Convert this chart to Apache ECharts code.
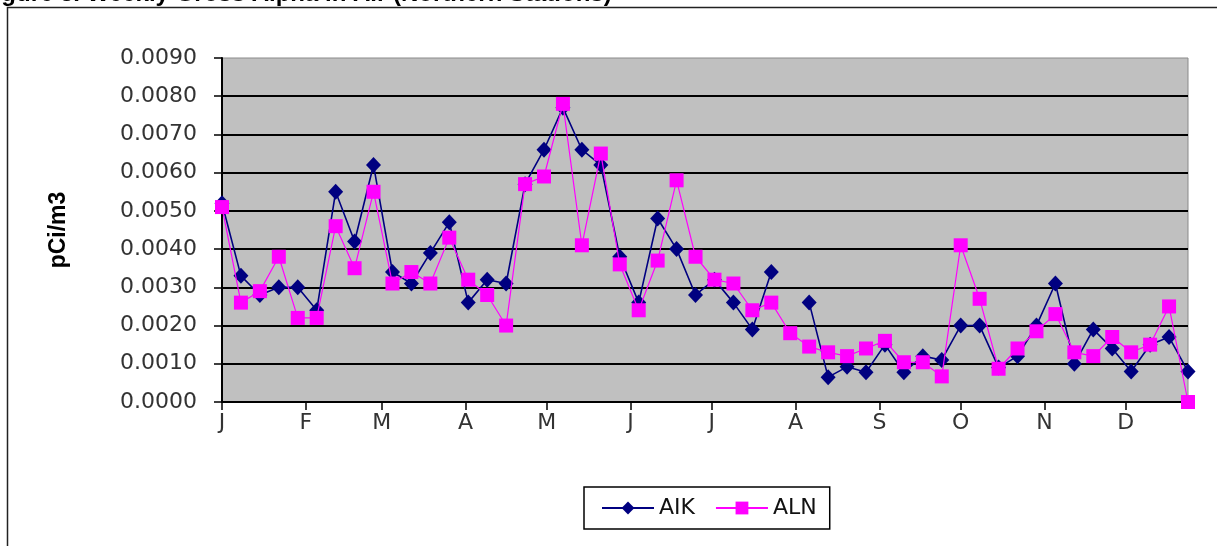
<!DOCTYPE html>
<html>
<head>
<meta charset="utf-8">
<script src="https://cdn.jsdelivr.net/npm/echarts@6/dist/echarts.min.js"></script>
<style>
html,body{margin:0;padding:0;background:#fff;}
#chart{width:1217px;height:546px;}
</style>
</head>
<body>
<div id="chart"></div>
<script>
// Weekly sample dates (one year)
const sampleDates = [
  '2007-01-01','2007-01-08','2007-01-15','2007-01-22','2007-01-29',
  '2007-02-05','2007-02-12','2007-02-19','2007-02-26',
  '2007-03-05','2007-03-12','2007-03-19','2007-03-26',
  '2007-04-02','2007-04-09','2007-04-16','2007-04-23','2007-04-30',
  '2007-05-07','2007-05-14','2007-05-21','2007-05-28',
  '2007-06-04','2007-06-11','2007-06-18','2007-06-25',
  '2007-07-02','2007-07-09','2007-07-16','2007-07-23','2007-07-30',
  '2007-08-06','2007-08-13','2007-08-20','2007-08-27',
  '2007-09-03','2007-09-10','2007-09-17','2007-09-24',
  '2007-10-01','2007-10-08','2007-10-15','2007-10-22','2007-10-29',
  '2007-11-05','2007-11-12','2007-11-19','2007-11-26',
  '2007-12-03','2007-12-10','2007-12-17','2007-12-24'
];
const aikValues = [
  0.0052,0.0033,0.0028,0.0030,0.0030,0.0024,0.0055,0.0042,0.0062,0.0034,
  0.0031,0.0039,0.0047,0.0026,0.0032,0.0031,0.0057,0.0066,0.0077,0.0066,
  0.0062,0.0038,0.0026,0.0048,0.0040,0.0028,0.0032,0.0026,0.0019,0.0034,
  null,0.0026,0.00065,0.00092,0.00078,0.0015,0.00078,0.0012,0.0011,0.0020,
  0.0020,0.0009,0.0012,0.0020,0.0031,0.0010,0.0019,0.0014,0.0008,0.0015,
  0.0017,0.0008
];
const alnValues = [
  0.0051,0.0026,0.0029,0.0038,0.0022,0.0022,0.0046,0.0035,0.0055,0.0031,
  0.0034,0.0031,0.0043,0.0032,0.0028,0.0020,0.0057,0.0059,0.0078,0.0041,
  0.0065,0.0036,0.0024,0.0037,0.0058,0.0038,0.0032,0.0031,0.0024,0.0026,
  0.0018,0.00145,0.0013,0.0012,0.0014,0.0016,0.00104,0.00104,0.00067,0.0041,
  0.0027,0.00087,0.0014,0.00185,0.0023,0.0013,0.0012,0.0017,0.0013,0.0015,
  0.0025,0.0000
];
const monthStarts = [
  '2007-01-01','2007-02-01','2007-03-01','2007-04-01','2007-05-01','2007-06-01',
  '2007-07-01','2007-08-01','2007-09-01','2007-10-01','2007-11-01','2007-12-01'
];
const monthLabels = ['J','F','M','A','M','J','J','A','S','O','N','D'];
const seriesNames = ['AIK','ALN'];
const titleText = 'Figure 3. Weekly Gross Alpha in Air (Northern Stations)';
const yAxisTitle = 'pCi/m3';

// dates -> day number counted from the first sample
function dayNum(s){
  const p = s.split('-').map(Number);
  const q = sampleDates[0].split('-').map(Number);
  return Math.round((Date.UTC(p[0], p[1]-1, p[2]) - Date.UTC(q[0], q[1]-1, q[2])) / 86400000);
}
const xs = sampleDates.map(dayNum);
const monthDays = monthStarts.map(dayNum);
function monthLetter(v){
  const i = monthDays.indexOf(Math.round(v));
  return i >= 0 ? monthLabels[i] : '';
}

const FONT = 'Liberation Sans, Arial, sans-serif';
const LFONT = 'DejaVu Sans, sans-serif';
const chart = echarts.init(document.getElementById('chart'), null, {renderer:'canvas'});
chart.setOption({
  animation: false,
  backgroundColor: '#ffffff',
  grid: {
    left: 222, right: 29, top: 58, bottom: 144,
    show: true, backgroundColor: '#c0c0c0', borderColor: '#8a8a8a', borderWidth: 1,
    outerBoundsMode: 'none'
  },
  legend: {
    data: seriesNames,
    left: 584, top: 487,
    orient: 'horizontal',
    backgroundColor: '#ffffff',
    borderColor: '#000000', borderWidth: 1.5, borderRadius: 0,
    padding: [10, 13, 10, 17],
    itemWidth: 52, itemHeight: 16, itemGap: 20,
    textStyle: { fontFamily: LFONT, fontSize: 22, color: '#111' }
  },
  xAxis: {
    type: 'value',
    min: xs[0], max: xs[xs.length - 1],
    axisLine: { show: true, lineStyle: { color: '#000', width: 2 } },
    axisTick: { show: true, length: 8, inside: false, customValues: monthDays, lineStyle: { color: '#000', width: 1.5 } },
    axisLabel: {
      customValues: monthDays,
      formatter: function(v){ return monthLetter(v); },
      fontFamily: LFONT, fontSize: 22, color: '#333', margin: 10
    },
    splitLine: { show: false }
  },
  yAxis: {
    type: 'value',
    min: 0, max: 0.009, interval: 0.001,
    axisLine: { show: true, lineStyle: { color: '#000', width: 2 } },
    axisTick: { show: true, length: 8, inside: false, lineStyle: { color: '#000', width: 1.5 } },
    axisLabel: {
      formatter: function(v){ return v.toFixed(4); },
      fontFamily: LFONT, fontSize: 22, color: '#333', margin: 25
    },
    splitLine: { show: true, showMaxLine: false, showMinLine: false, lineStyle: { color: '#000', width: 2 } }
  },
  series: [
    {
      name: seriesNames[0], type: 'line',
      data: xs.map((x, i) => [x, aikValues[i]]),
      connectNulls: false,
      symbol: 'diamond', symbolSize: [15, 16],
      lineStyle: { color: '#000080', width: 1.6 },
      itemStyle: { color: '#000080' },
      z: 2
    },
    {
      name: seriesNames[1], type: 'line',
      data: xs.map((x, i) => [x, alnValues[i]]),
      symbol: 'rect', symbolSize: 14,
      lineStyle: { color: '#ff00ff', width: 1.2 },
      itemStyle: { color: '#ff00ff' },
      z: 3
    }
  ],
  graphic: [
    {
      type: 'rect', silent: true, z: 0,
      shape: { x: 7.5, y: 7.5, width: 1400, height: 800 },
      style: { fill: null, stroke: '#222', lineWidth: 1.5 }
    },
    {
      type: 'text', silent: true,
      x: -20, y: 6,
      style: { text: titleText, font: 'bold 24px ' + FONT, fill: '#000', textAlign: 'left', textVerticalAlign: 'bottom' }
    },
    {
      type: 'text', silent: true,
      x: 59, y: 230, rotation: Math.PI / 2,
      style: { text: yAxisTitle, font: 'bold 23px ' + FONT, fill: '#000', textAlign: 'center', textVerticalAlign: 'middle' }
    }
  ]
});
</script>
</body>
</html>
